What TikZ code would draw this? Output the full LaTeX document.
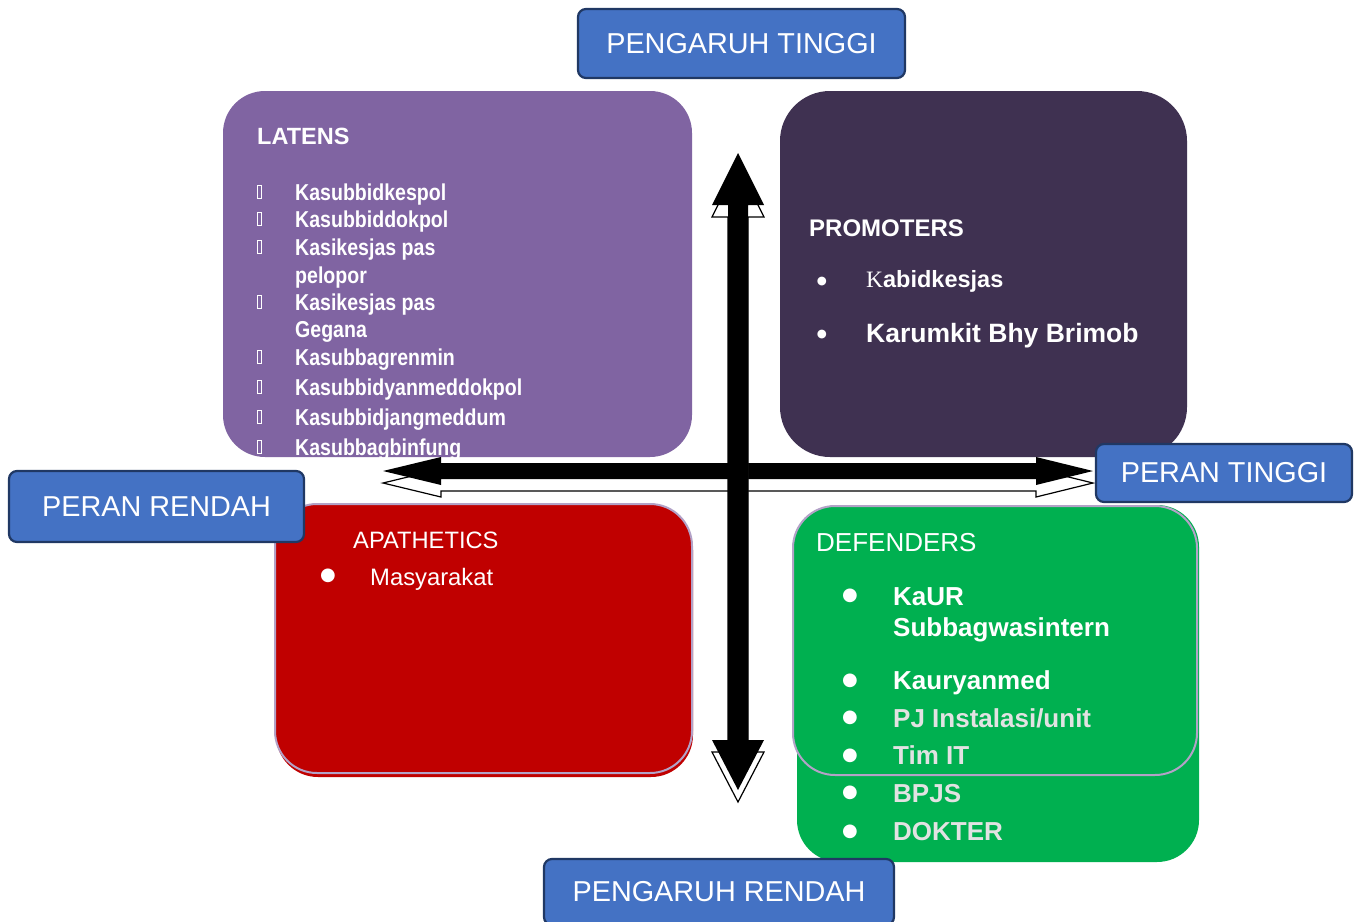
\documentclass[tikz,border=0pt]{standalone}
\usepackage{fontspec}
\setmainfont{Liberation Sans}
\newfontfamily\narrowsans[FakeStretch=0.85]{Liberation Sans}
\newfontfamily\serifk{Liberation Serif}
\newfontfamily\dotfont{DejaVu Sans}
\definecolor{tagblue}{HTML}{4472C4}
\definecolor{tagline}{HTML}{203864}
\definecolor{latensfill}{HTML}{8064A2}
\definecolor{promfill}{HTML}{3F3151}
\definecolor{apafill}{HTML}{C00000}
\definecolor{deffill}{HTML}{00B050}
\definecolor{lavline}{HTML}{B3A2C7}
\definecolor{softwhite}{HTML}{E2E2E2}
\newcommand\fsz[1]{\fontsize{#1}{#1}\selectfont}

\begin{document}
\begin{tikzpicture}[x=1pt,y=-1pt,
    tagbox/.style={draw=tagline, line width=2.2pt, fill=tagblue, rounded corners=8pt,
        inner sep=0pt, text=white, font=\fsz{28.8}},
    quad/.style={inner sep=0pt, rounded corners=42pt},
    item/.style={anchor=base west, inner sep=0pt, text=white},
    dot/.style={anchor=center, inner sep=0pt, text=white},
    arrowback/.style={fill=white, draw=black, line width=1.2pt},
    arrowfront/.style={fill=black}]
    \useasboundingbox (0,0) rectangle (1360,921);
    \clip (0,0) rectangle (1360,921);
    \fill[white] (0,0) rectangle (1360,921);

    \node[quad, fill=latensfill, minimum width=469, minimum height=366] (latens) at (457.5,274) {};
    \node[quad, fill=promfill, minimum width=407, minimum height=366, rounded corners=50pt] (promoters) at (983.5,274) {};
    \node[quad, fill=apafill, minimum width=417, minimum height=269] (apashadow) at (484.5,642.5) {};
    \node[quad, fill=apafill, draw=lavline, line width=2pt, minimum width=417, minimum height=269] (apathetics) at (483.5,638.5) {};
    \node[quad, fill=deffill, minimum width=402, minimum height=357] (defbase) at (998,683.5) {};
    \node[quad, fill=deffill, draw=lavline, line width=2pt, minimum width=404, minimum height=269] (defenders) at (995,640.5) {};

    \node[item, font=\bfseries\fsz{23.5}] (latenstitle) at (257,144) {LATENS};
    \begin{scope}
        \clip[rounded corners=42pt] (223,91) rectangle (692,457);
        \foreach \y/\txt/\b in {200/Kasubbidkespol/1, 227/Kasubbiddokpol/1, 255/Kasikesjas pas/1,
            283/pelopor/0, 310/Kasikesjas pas/1, 337/Gegana/0, 365/Kasubbagrenmin/1,
            395/Kasubbidyanmeddokpol/1, 425/Kasubbidjangmeddum/1, 455/Kasubbagbinfung/1} {
            \node[item, font=\narrowsans\bfseries\fsz{23}] (lat\y) at (295,\y) {\txt};
            \ifnum\b=1 \draw[white, line width=0.8pt] (257.5,\y-15) rectangle (261.5,\y-2); \fi
        }
    \end{scope}

    \node[item, font=\bfseries\fsz{24}] (promtitle) at (809,236) {PROMOTERS};
    \node[dot, font=\dotfont\fsz{11.5}] (promdot1) at (822,282) {●};
    \node[item, font=\bfseries\fsz{23.5}] (prom1) at (866,287) {{\serifk\mdseries K}abidkesjas};
    \node[dot, font=\dotfont\fsz{11.5}] (promdot2) at (822,335) {●};
    \node[item, font=\bfseries\fsz{26.5}] (prom2) at (866,342) {Karumkit Bhy Brimob};

    \node[item, font=\fsz{23.7}] (apatitle) at (353,548) {APATHETICS};
    \node[dot, font=\dotfont\fsz{18}] (apadot) at (328,576) {●};
    \node[item, font=\fsz{23.8}] (apa1) at (370,585) {Masyarakat};

    \node[item, font=\fsz{26}] (deftitle) at (816,551) {DEFENDERS};
    \foreach \y/\txt/\c in {605/KaUR/white, 636/Subbagwasintern/white, 689/Kauryanmed/white,
        727/PJ Instalasi\slash unit/softwhite, 764/Tim IT/softwhite, 802/BPJS/softwhite, 840/DOKTER/softwhite} {
        \node[item, font=\bfseries\fsz{26}, text=\c] (def\y) at (893,\y) {\txt};
    }
    \foreach \y in {596,681,718,756,793,832} {
        \node[dot, font=\dotfont\fsz{18}] (defdot\y) at (850,\y) {●};
    }

    \foreach \dy/\sty in {12/arrowback, 0/arrowfront} {
        \path[\sty, shift={(0,\dy)}] (383,471) -- (441,457) -- (441,463) -- (1036,463) -- (1036,457)
            -- (1093,471) -- (1036,485) -- (1036,479) -- (441,479) -- (441,485) -- cycle;
    }
    \foreach \dy/\sty in {12/arrowback, 0/arrowfront} {
        \path[\sty, shift={(0,\dy)}] (738,153) -- (764,205) -- (748,205) -- (748,740) -- (764,740)
            -- (738,790) -- (712,740) -- (728,740) -- (728,205) -- (712,205) -- cycle;
    }

    \node[tagbox, minimum width=327, minimum height=69] (pengtinggi) at (741.5,43.5) {PENGARUH TINGGI};
    \node[tagbox, minimum width=350, minimum height=66] (pengrendah) at (719,892) {PENGARUH RENDAH};
    \node[tagbox, minimum width=295, minimum height=71] (peranrendah) at (156.5,506.5) {PERAN RENDAH};
    \node[tagbox, minimum width=256, minimum height=58] (perantinggi) at (1224,473) {PERAN TINGGI};
\end{tikzpicture}
\end{document}
